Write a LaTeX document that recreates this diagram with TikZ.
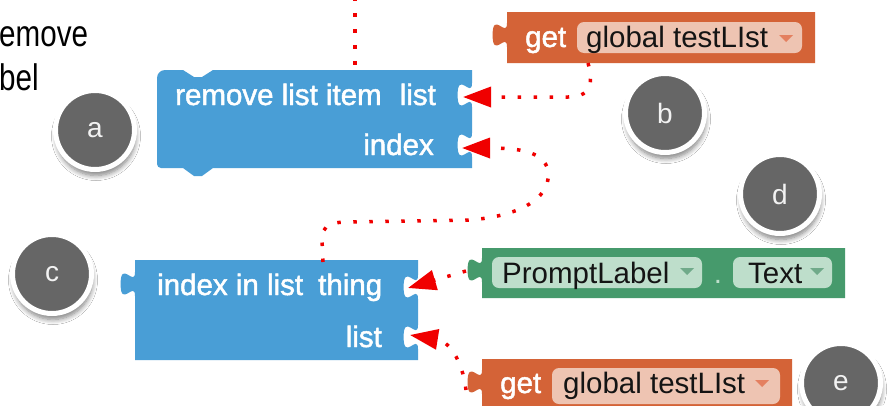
\documentclass[tikz,border=0pt]{standalone}
\usepackage{fontspec}
\setmainfont{Liberation Sans}
\newfontfamily\condfont[FakeStretch=0.8]{Liberation Sans}
\newfontfamily\blockfont[FakeBold=1.6]{Liberation Sans}
\usetikzlibrary{arrows.meta,shadows.blur}

\definecolor{listblue}{RGB}{73,158,214}
\definecolor{varorange}{RGB}{212,99,55}
\definecolor{varfield}{RGB}{238,196,178}
\definecolor{vartri}{RGB}{228,128,96}
\definecolor{compgreen}{RGB}{70,154,108}
\definecolor{compfield}{RGB}{190,222,203}
\definecolor{comptri}{RGB}{112,170,138}
\definecolor{badgegray}{RGB}{102,102,102}
\definecolor{linkred}{RGB}{240,0,0}

\tikzset{
  % socket cut into the right edge of a block, top of the socket row at #2
  sockR/.style 2 args={insert path={-- (#1,#2+8) .. controls (#1,#2+24) and (#1-14.4,#2-4.8) .. (#1-14.4,#2+20) .. controls (#1-14.4,#2+44.8) and (#1,#2+16) .. (#1,#2+32)}},
  % output plug on the left edge, traced upwards
  tabL/.style 2 args={insert path={-- (#1,#2+32) .. controls (#1,#2+16) and (#1-14.4,#2+44.8) .. (#1-14.4,#2+20) .. controls (#1-14.4,#2-4.8) and (#1,#2+24) .. (#1,#2+8)}},
  wtxt/.style={anchor=base west, inner sep=0pt, text=white, font=\blockfont\fontsize{29.5}{34}\selectfont},
  ftxt/.style={anchor=base west, inner sep=0pt, text=black!92, font=\fontsize{29.5}{34}\selectfont},
  sidetxt/.style={anchor=base west, inner sep=0pt, text=black, font=\condfont\fontsize{37}{44}\selectfont},
  badge/.style={circle, fill=badgegray, draw=white, line width=5pt, minimum size=79pt, inner sep=0pt,
    text=black!5, font=\fontsize{28}{32}\selectfont,
    blur shadow={shadow xshift=1pt, shadow yshift=-6pt, shadow blur radius=5pt, shadow opacity=50, shadow blur steps=8}},
  dotline/.style={draw=linkred, line width=3.5pt, dash pattern=on 3.5pt off 12.5pt},
  tip/.style={-{Triangle[length=28pt,width=20pt]}},
}

\begin{document}
\begin{tikzpicture}[x=1pt,y=-1pt]
\useasboundingbox (0,0) rectangle (889,405);
\fill[white] (0,0) rectangle (889,405);
\clip (0,0) rectangle (889,405);

% side caption, cut by the left edge
\node[sidetxt] (cap1) at (-1,46) {emove};
\node[sidetxt] (cap2) at (-1,90) {bel};

% "remove list item" statement block
\fill[listblue] (157,78) .. controls (157,73.6) and (160.6,70) .. (165,70) -- (183,70) -- (194,77) -- (202,77) -- (213,70)
  -- (472,70) [sockR={472}{75}] [sockR={472}{125}] -- (472,168) -- (213,168) -- (202,176) -- (194,176) -- (183,168)
  -- (161,168) .. controls (158.8,168) and (157,166.2) .. (157,164) -- cycle;
\node[wtxt] (rmv) at (175,105) {remove list item};
\node[wtxt, anchor=base east] (rmvList) at (436,105) {list};
\node[wtxt, anchor=base east] (rmvIdx) at (434,155) {index};

% "index in list" value block
\fill[listblue] (135,260) -- (418,260) [sockR={418}{267}] [sockR={418}{317}] -- (418,360) -- (135,360) [tabL={135}{264}] -- cycle;
\node[wtxt] (iil) at (157,295) {index in list};
\node[wtxt] (iilThing) at (318,295) {thing};
\node[wtxt, anchor=base east] (iilList) at (382,347) {list};

% get global testLIst (upper)
\fill[varorange] (507,12) -- (815,12) -- (815,63) -- (507,63) [tabL={507}{15}] -- cycle;
\fill[varfield, rounded corners=7pt] (577,22) rectangle (802,53);
\fill[vartri] (779,35) -- (793,35) -- (786,42) -- cycle;
\node[wtxt] (get1) at (525,47) {get};
\node[ftxt] (var1) at (586,47) {global testLIst};

% PromptLabel.Text getter
\fill[compgreen] (482,248) -- (845,248) -- (845,298) -- (482,298) [tabL={482}{250}] -- cycle;
\fill[compfield, rounded corners=7pt] (492,257) rectangle (702,288);
\fill[compfield, rounded corners=7pt] (733,257) rectangle (832,288);
\fill[comptri] (680,268) -- (694,268) -- (687,275) -- cycle;
\fill[comptri] (810,268) -- (824,268) -- (817,275) -- cycle;
\node[ftxt] (comp) at (502,283) {PromptLabel};
\node[anchor=base, inner sep=0pt, text=compfield, font=\fontsize{29.5}{34}\selectfont] (sep) at (718,283) {.};
\node[ftxt] (prop) at (748,283) {Text};

% get global testLIst (lower)
\fill[varorange] (482,359) -- (792,359) -- (792,412) -- (482,412) [tabL={482}{362}] -- cycle;
\fill[varfield, rounded corners=7pt] (552,368) rectangle (780,404);
\fill[vartri] (755,380) -- (769,380) -- (762,387) -- cycle;
\node[wtxt] (get2) at (500,393) {get};
\node[ftxt] (var2) at (563,393) {global testLIst};

% connection points
\coordinate (topEnd) at (355,-3);
\coordinate (aTop) at (355,70);
\coordinate (bOut) at (588,63);
\coordinate (aList) at (463,97);
\coordinate (aIdx) at (462,148);
\coordinate (cTop) at (323,262);
\coordinate (gTab) at (466,271);
\coordinate (cThing) at (408,288);
\coordinate (eTab) at (466,390);
\coordinate (cList) at (410,335);

% dotted links
\draw[dotline] (topEnd) -- (aTop);
\draw[dotline, tip] (bOut) .. controls (594,85) and (590,97) .. (568,97) -- (aList);
\draw[dotline, tip] (cTop) -- (322,240) .. controls (322,224) and (332,222) .. (350,222) -- (470,220)
  .. controls (540,214) and (553,186) .. (547,167) .. controls (541,152) and (520,148) .. (aIdx);
\draw[dotline, tip] (gTab) -- (cThing);
\draw[dotline, tip] (eTab) .. controls (462,358) and (448,341) .. (cList);

% letter badges
\node[badge] (ba) at (95,130) {a};
\node[badge] (bb) at (665,113) {b};
\node[badge] (bc) at (52,274) {c};
\node[badge] (bd) at (780,194) {d};
\node[badge] (be) at (841,383) {e};
\end{tikzpicture}
\end{document}
